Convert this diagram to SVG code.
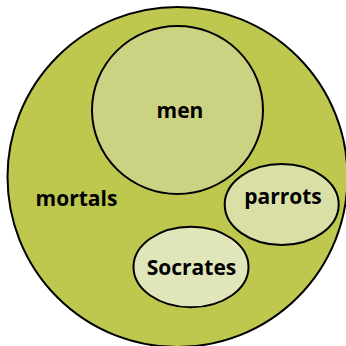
<svg xmlns="http://www.w3.org/2000/svg" width="346" height="346" viewBox="0 0 346 346">
<style>
.n{stroke:#000;stroke-width:2}
text{font-family:"Open Sans","DejaVu Sans",sans-serif;font-weight:bold;font-size:21px;text-anchor:middle;fill:#000}
</style>
<rect width="346" height="346" fill="#fff"/>
<g id="mortals">
<circle class="n" cx="177.5" cy="177" r="170" fill="#bec74e"/>
<text x="76.5" y="206">mortals</text>
</g>
<g id="men">
<ellipse class="n" cx="177.5" cy="110" rx="85.5" ry="84" fill="#cbd282"/>
<text x="180" y="118">men</text>
</g>
<g id="parrots">
<ellipse class="n" cx="281.7" cy="204.5" rx="57" ry="40.5" fill="#dae0a5"/>
<text x="283" y="204">parrots</text>
</g>
<g id="socrates">
<ellipse class="n" cx="191" cy="267" rx="57.5" ry="40.3" fill="#e1e5ba"/>
<text x="191.5" y="275">Socrates</text>
</g>
<g id="connectors"/>
</svg>
